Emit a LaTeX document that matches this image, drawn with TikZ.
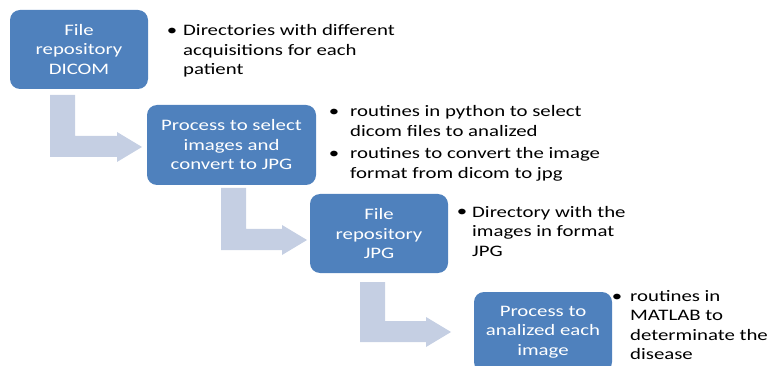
\documentclass[tikz,border=0pt]{standalone}
\usepackage{fontspec}
\setmainfont{Carlito}[FakeStretch=1.3]

\definecolor{boxblue}{RGB}{79,129,189}
\definecolor{flowblue}{RGB}{197,207,227}

% bent arrow: bar left x, bar top y, tip x, tip y
\newcommand{\bentarrow}[4]{%
  \fill[flowblue] (#1,#2) -- (#1+25,#2) -- (#1+25,#4-11) -- (#3-25,#4-11)
    -- (#3-25,#4-15) -- (#3,#4) -- (#3-25,#4+15) -- (#3-25,#4+10)
    -- (#1,#4+10) -- cycle;}

\begin{document}
\begin{tikzpicture}[x=1pt,y=-1pt,
    box/.style={fill=boxblue, rounded corners=10pt, text=white, align=center,
      inner sep=0pt, font=\fontsize{16}{19.5}\selectfont},
    note/.style={anchor=base west, align=left, inner sep=0pt,
      font=\fontsize{16}{19.5}\selectfont},
    dot/.style={anchor=base, inner sep=0pt, font=\fontsize{16}{19.5}\selectfont}]
    \useasboundingbox (0,0) rectangle (771,366);
    \clip (0,0) rectangle (771,366);

    % arrows go under the boxes
    \bentarrow{50}{95}{142}{147}
    \bentarrow{221}{188}{307}{240}
    \bentarrow{360}{282}{451}{332}

    \node[box, minimum width=138pt, minimum height=79pt] (dicom) at (79,49.5) {File\\repository\\DICOM};
    \node[box, minimum width=169pt, minimum height=80pt] (convert) at (231.5,145) {Process to select\\images and\\convert to JPG};
    \node[box, minimum width=138pt, minimum height=79pt] (jpg) at (379,233.5) {File\\repository\\JPG};
    \node[box, minimum width=138pt, minimum height=80pt] (analyze) at (543,332) {Process to\\analized each\\image};

    % notes beside each step (base = last line)
    \node[dot] (b1) at (172,36) {•};
    \node[note] (n1) at (183,75) {Directories with different\\acquisitions for each\\patient};
    \node[dot] (b2a) at (334,117) {•};
    \node[note] (n2a) at (350,136.5) {routines in python to select\\dicom files to analized};
    \node[dot] (b2b) at (334,159) {•};
    \node[note] (n2b) at (350,178.5) {routines to convert the image\\format from dicom to jpg};
    \node[dot] (b3) at (462,217) {•};
    \node[note] (n3) at (472,256) {Directory with the\\images in format\\JPG};
    \node[dot] (b4) at (617,301) {•};
    \node[note] (n4) at (630,359.5) {routines in\\MATLAB to\\determinate the\\disease};
\end{tikzpicture}
\end{document}
